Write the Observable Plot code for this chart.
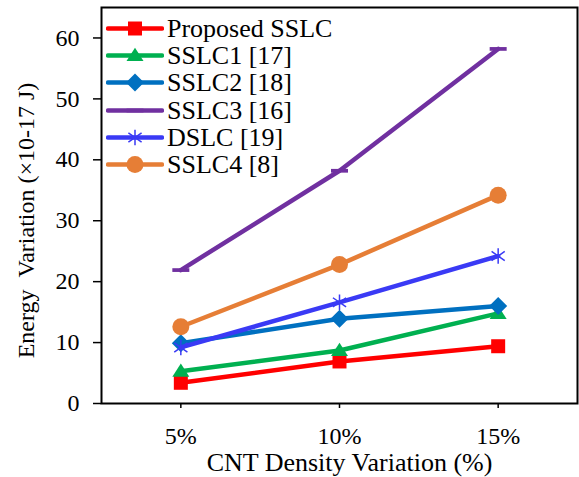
<!DOCTYPE html>
<html><head><meta charset="utf-8">
<script src="https://cdn.jsdelivr.net/npm/d3@7"></script>
<script src="https://cdn.jsdelivr.net/npm/@observablehq/plot@0.6"></script>
<style>
body{margin:0;background:#fff;}
#wrap{position:relative;width:579px;height:477px;font-family:"Liberation Serif","Times New Roman",serif;}
#legend{position:absolute;left:106px;top:15px;}
.row{display:flex;align-items:center;height:27.2px;}
.row span{font-size:26px;color:#000;margin-left:3px;line-height:27px;white-space:pre;}
</style></head>
<body><div id="wrap"></div>
<script>
const categories = ["5%", "10%", "15%"];
const xValues = [5, 10, 15];
const seriesNames = ["Proposed SSLC", "SSLC1 [17]", "SSLC2 [18]", "SSLC3 [16]", "DSLC [19]", "SSLC4 [8]"];
const proposed = [3.4, 6.9, 9.4];
const sslc1 = [5.3, 8.7, 14.8];
const sslc2 = [9.9, 13.9, 16.0];
const sslc3 = [21.9, 38.2, 58.2];
const dslc = [9.2, 16.6, 24.2];
const sslc4 = [12.6, 22.8, 34.2];
const yTicks = [0, 10, 20, 30, 40, 50, 60];
const xTitle = "CNT Density Variation (%)";
const yTitle = "Energy \u00a0Variation (×10-17 J)";

const colors = ["#FF0000", "#00B050", "#0070C0", "#7030A0", "#3A3AF5", "#E67E36"];
// custom marker shapes (size-based)
const sq = {draw(ctx, size){ const r = Math.sqrt(size)/2; ctx.rect(-r, -r, 2*r, 2*r); }};
const tri = {draw(ctx, size){ const d = Math.sqrt(size); ctx.moveTo(0, -0.45*d); ctx.lineTo(d/2, 0.33*d); ctx.lineTo(-d/2, 0.33*d); ctx.closePath(); }};
const dia = {draw(ctx, size){ const r = Math.sqrt(size)/2; ctx.moveTo(0, -r); ctx.lineTo(r, 0); ctx.lineTo(0, r); ctx.lineTo(-r, 0); ctx.closePath(); }};
const dash = {draw(ctx, size){ const r = Math.sqrt(size)/2; ctx.rect(-r, -r*0.22, 2*r, r*0.44); }};
const circ = {draw(ctx, size){ const r = Math.sqrt(size)/2; ctx.moveTo(r, 0); ctx.arc(0, 0, r, 0, 2*Math.PI); }};
const star = {draw(ctx, size){ const r = Math.sqrt(size)/2;
  ctx.moveTo(0, -r); ctx.lineTo(0, r);
  const a = r*0.85; ctx.moveTo(-a, -a*0.7); ctx.lineTo(a, a*0.7); ctx.moveTo(-a, a*0.7); ctx.lineTo(a, -a*0.7); }};
const symbols = [sq, tri, dia, dash, star, circ];
const diam = [14, 17, 18, 17, 15.5, 17];
const allValues = [proposed, sslc1, sslc2, sslc3, dslc, sslc4];
const symR = (dd) => Math.sqrt(dd*dd/Math.PI); // r such that size = dd^2

const rows = [];
allValues.forEach((vals, i) => vals.forEach((v, j) => rows.push({series: seriesNames[i], idx: i, x: xValues[j], y: v})));

const marks = [];
allValues.forEach((vals, i) => {
  const d = rows.filter(r => r.idx === i);
  marks.push(Plot.line(d, {x: "x", y: "y", stroke: colors[i], strokeWidth: 4.5}));
  if (i === 4) {
    marks.push(Plot.dot(d, {x: "x", y: "y", symbol: symbols[i], r: symR(diam[i]), stroke: colors[i], fill: "none", strokeWidth: 1.5}));
  } else {
    marks.push(Plot.dot(d, {x: "x", y: "y", symbol: symbols[i], r: symR(diam[i]), fill: colors[i], stroke: "none"}));
  }
});

const plot = Plot.plot({
  width: 579, height: 477,
  marginLeft: 101, marginRight: 2, marginTop: 7, marginBottom: 74,
  style: {fontFamily: "Liberation Serif, Times New Roman, serif", fontSize: "24px", color: "#000", background: "#fff"},
  x: {domain: [2.5, 17.5]},
  y: {domain: [0, 65]},
  marks: [
    Plot.axisY({ticks: yTicks, tickSize: 8, tickPadding: 14, strokeWidth: 1.5, fontSize: 24, label: null}),
    Plot.axisX({ticks: xValues, tickFormat: (d) => categories[xValues.indexOf(d)], tickSize: 5, tickPadding: 18, strokeWidth: 1.5, fontSize: 24, label: null}),
    Plot.text([yTitle], {frameAnchor: "left", rotate: -90, dx: -75, dy: 15, fontSize: 24, textAnchor: "middle", lineAnchor: "middle", fill: "#000"}),
    Plot.text([xTitle], {frameAnchor: "bottom", dx: 10, dy: 59, fontSize: 26, textAnchor: "middle", lineAnchor: "middle", fill: "#000"}),
    ...marks,
    Plot.frame({stroke: "#000", strokeWidth: 2})
  ]
});
plot.querySelectorAll("text").forEach(t => t.setAttribute("xml:space", "preserve"));
document.getElementById("wrap").appendChild(plot);

const legend = document.createElement("div");
legend.id = "legend";
seriesNames.forEach((name, i) => {
  const row = document.createElement("div");
  row.className = "row";
  const svg = d3.create("svg").attr("width", 58).attr("height", 27);
  svg.append("line").attr("x1", 2).attr("x2", 56).attr("y1", 13.5).attr("y2", 13.5).attr("stroke", colors[i]).attr("stroke-width", 4.5).attr("stroke-linecap", "round");
  const p = svg.append("path").attr("d", d3.symbol(symbols[i], diam[i]*diam[i])()).attr("transform", "translate(29,13.5)");
  if (i === 4) p.attr("fill", "none").attr("stroke", colors[i]).attr("stroke-width", 1.5);
  else p.attr("fill", colors[i]);
  row.appendChild(svg.node());
  const s = document.createElement("span");
  s.textContent = name;
  row.appendChild(s);
  legend.appendChild(row);
});
document.getElementById("wrap").appendChild(legend);
</script></body></html>
